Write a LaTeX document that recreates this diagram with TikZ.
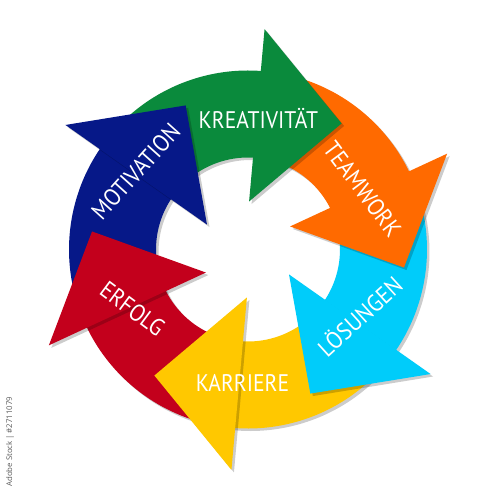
\documentclass[tikz,border=0pt]{standalone}
\usepackage{fontspec}
\setmainfont{PT Sans}
\newfontfamily\labfont[FakeStretch=0.9]{PT Sans}
\newfontfamily\credfont{Open Sans}
\definecolor{cgreen}{RGB}{10,138,60}
\definecolor{corange}{RGB}{255,106,0}
\definecolor{ccyan}{RGB}{0,204,250}
\definecolor{cyellow}{RGB}{255,200,0}
\definecolor{cred}{RGB}{195,0,28}
\definecolor{cblue}{RGB}{6,24,136}
\definecolor{credit}{RGB}{90,90,90}
\tikzset{
  lab/.style={text=white,font=\labfont\fontsize{24}{26}\selectfont,inner sep=0pt},
  shadowfill/.style={fill=black,opacity=0.2}
}
\newcommand\arrowlabel[4]{%
  \node[lab,rotate=#3] (#1) at (#2) {#4};}
\begin{document}
\begin{tikzpicture}[x=1pt,y=1pt]
\useasboundingbox[fill=white] (-248,-250.5) rectangle (245,249.5);
% shadows of the ring bodies
\begin{scope}[shift={(2.5,-2.5)}]
\fill[shadowfill]
  \foreach \t in {85.7,25.7,-34.3,-94.3,-154.3,145.7}{
    (\t+60:179) arc[start angle=\t+60, end angle=\t-10, radius=179]
    -- (\t-10:92) arc[start angle=\t-10, end angle=\t+60, radius=92] -- cycle};
\end{scope}
% ring bodies
\foreach \t/\c in {85.7/cgreen,25.7/corange,-34.3/ccyan,-94.3/cyellow,-154.3/cred,145.7/cblue}{
  \fill[\c] (\t+60:179) arc[start angle=\t+60, end angle=\t-10, radius=179]
    -- (\t-10:92) arc[start angle=\t-10, end angle=\t+60, radius=92] -- cycle;
}
% shadows of arrow heads
\begin{scope}[shift={(2.5,-2.5)}]
\fill[shadowfill]
  \foreach \t in {85.7,25.7,-34.3,-94.3,-154.3,145.7}{
    (\t:221) -- (\t-32.3:157) -- (\t+3:48) -- cycle};
\end{scope}
% arrow heads
\foreach \t/\c in {85.7/cgreen,25.7/corange,-34.3/ccyan,-94.3/cyellow,-154.3/cred,145.7/cblue}{
  \fill[\c] (\t:221) -- (\t-32.3:157) -- (\t+3:48) -- cycle;
}
% labels
\coordinate (pk) at (10.4,130.5);
\coordinate (pt) at (114.5,60.5);
\coordinate (pl) at (111.2,-66.3);
\coordinate (pa) at (-5.5,-133);
\coordinate (pe) at (-115.5,-59.5);
\coordinate (pm) at (-112.2,77.8);
\arrowlabel{kre}{pk}{0}{KREATIVITÄT}
\arrowlabel{tea}{pt}{-53}{TEAMWORK}
\arrowlabel{loe}{pl}{42.3}{LÖSUNGEN}
\arrowlabel{kar}{pa}{0}{KARRIERE}
\arrowlabel{erf}{pe}{-36.6}{ERFOLG}
\arrowlabel{mot}{pm}{48}{MOTIVATION}
\node[rotate=90,text=credit,font=\credfont\fontsize{7.8}{9}\selectfont,inner sep=0pt] (credit) at (-238,-192.2) {Adobe Stock | \#2711079};
\end{tikzpicture}
\end{document}
